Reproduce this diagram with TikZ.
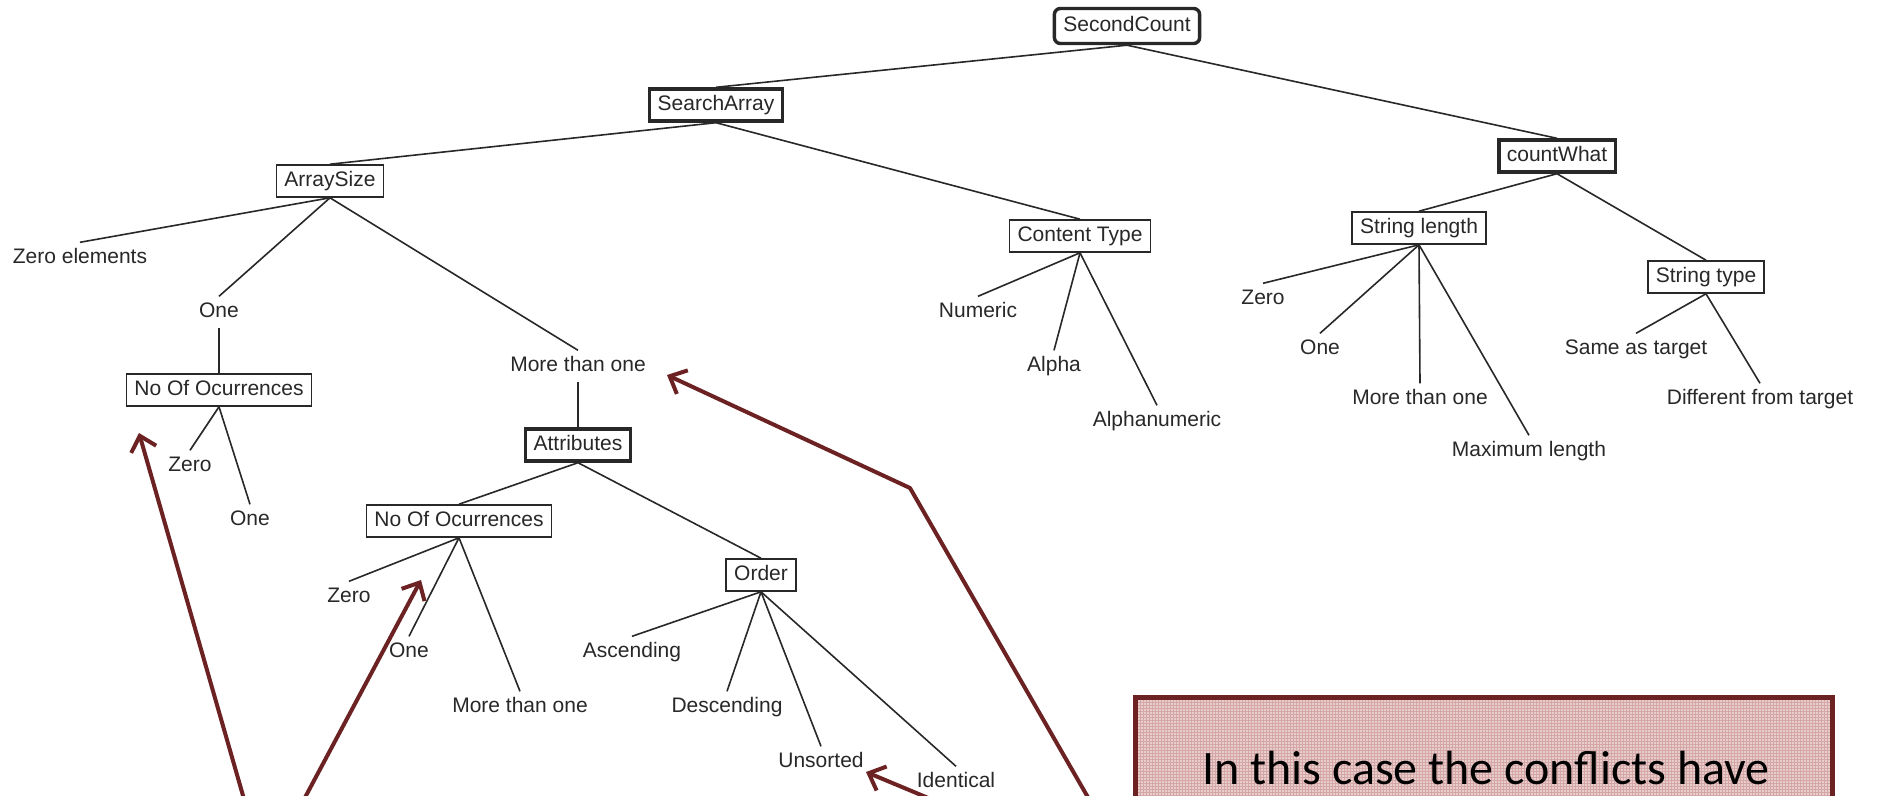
\documentclass[tikz,border=0pt]{standalone}
\usepackage{fontspec}
\setmainfont{Liberation Sans}
\newfontfamily\calloutfont{Carlito}
\usetikzlibrary{arrows.meta,patterns}
\definecolor{treeink}{RGB}{40,40,40}
\definecolor{notered}{RGB}{108,34,34}
\definecolor{notefill}{RGB}{232,205,205}
\definecolor{notegrid}{RGB}{212,166,166}

\begin{document}
\begin{tikzpicture}[x=1pt,y=-1pt,
  every node/.style={font=\fontsize{21}{25}\selectfont, text=treeink,
    text height=15pt, text depth=4pt},
  leaf/.style={inner xsep=2pt, inner ysep=6pt},
  cat/.style={draw=treeink, line width=1.6pt, inner xsep=8pt, inner ysep=6.5pt},
  keycat/.style={cat, line width=3.4pt},
  rootcat/.style={keycat, rounded corners=6pt, inner xsep=9pt, inner ysep=8pt},
  edge/.style={draw=treeink, line width=1.6pt},
  remark/.style={draw=notered, line width=4pt, line join=round,
    -{Straight Barb[length=14pt,width=26pt]}},
]
\clip (0,0) rectangle (1879,795);
\fill[white] (0,0) rectangle (1879,795);

% category boxes
\node[rootcat] (sc) at (1127,26) {SecondCount};
\node[keycat]  (sa) at (716,105) {SearchArray};
\node[cat]     (as) at (330,181) {ArraySize};
\node[cat]     (ct) at (1080,236) {Content Type};
\node[keycat]  (cw) at (1557,156) {countWhat};
\node[cat]     (sl) at (1419,228) {String length};
\node[cat]     (st) at (1706,277) {String type};
\node[cat]     (noa) at (219,390) {No Of Ocurrences};
\node[keycat]  (at) at (578,445) {Attributes};
\node[cat]     (nob) at (459,521) {No Of Ocurrences};
\node[cat]     (or) at (761,575) {Order};

% leaf values
\node[leaf] (zel)  at (80,258)   {Zero elements};
\node[leaf] (onea) at (219,312)  {One};
\node[leaf] (mta)  at (578,366)  {More than one};
\node[leaf] (zra)  at (190,466)  {Zero};
\node[leaf] (onb)  at (250,520)  {One};
\node[leaf] (zrb)  at (349,597)  {Zero};
\node[leaf] (onc)  at (409,652)  {One};
\node[leaf] (mtb)  at (520,707)  {More than one};
\node[leaf] (asc)  at (632,652)  {Ascending};
\node[leaf] (desc) at (727,707)  {Descending};
\node[leaf] (uns)  at (821,762)  {Unsorted};
\node[leaf] (idn)  at (956,782)  {Identical};
\node[leaf] (num)  at (978,312)  {Numeric};
\node[leaf] (alp)  at (1054,366) {Alpha};
\node[leaf] (aln)  at (1157,421) {Alphanumeric};
\node[leaf] (zrc)  at (1263,299) {Zero};
\node[leaf] (ond)  at (1320,349) {One};
\node[leaf] (mtc)  at (1420,399) {More than one};
\node[leaf] (mxl)  at (1529,451) {Maximum length};
\node[leaf] (sat)  at (1636,349) {Same as target};
\node[leaf] (dft)  at (1760,399) {Different from target};

% tree edges
\draw[edge] (sc.south) -- (sa.north);
\draw[edge] (sc.south) -- (cw.north);
\draw[edge] (sa.south) -- (as.north);
\draw[edge] (sa.south) -- (ct.north);
\draw[edge] (as.south) -- (zel.north);
\draw[edge] (as.south) -- (onea.north);
\draw[edge] (as.south) -- (mta.north);
\draw[edge] (onea.south) -- (noa.north);
\draw[edge] (noa.south) -- (zra.north);
\draw[edge] (noa.south) -- (onb.north);
\draw[edge] (mta.south) -- (at.north);
\draw[edge] (at.south) -- (nob.north);
\draw[edge] (at.south) -- (or.north);
\draw[edge] (nob.south) -- (zrb.north);
\draw[edge] (nob.south) -- (onc.north);
\draw[edge] (nob.south) -- (mtb.north);
\draw[edge] (or.south) -- (asc.north);
\draw[edge] (or.south) -- (desc.north);
\draw[edge] (or.south) -- (uns.north);
\draw[edge] (or.south) -- (idn.north);
\draw[edge] (ct.south) -- (num.north);
\draw[edge] (ct.south) -- (alp.north);
\draw[edge] (ct.south) -- (aln.north);
\draw[edge] (cw.south) -- (sl.north);
\draw[edge] (cw.south) -- (st.north);
\draw[edge] (sl.south) -- (zrc.north);
\draw[edge] (sl.south) -- (ond.north);
\draw[edge] (sl.south) -- (mtc.north);
\draw[edge] (sl.south) -- (mxl.north);
\draw[edge] (st.south) -- (sat.north);
\draw[edge] (st.south) -- (dft.north);

% note box, running on below the lower edge
\fill[notefill] (1135,697) rectangle (1832,900);
\fill[pattern=grid, pattern color=notegrid] (1135,697) rectangle (1832,900);
\draw[notered, line width=5pt] (1135,697) rectangle (1832,900);
\node[font=\calloutfont\fontsize{48}{56}\selectfont, text=black,
  text height=33pt, text depth=0pt, inner sep=0pt] (note) at (1486,768)
  {In this case the conflicts have};

% pointers from the note
\coordinate (r1from) at (250,820);  \coordinate (r1to) at (139,433);
\coordinate (r2from) at (293,820);  \coordinate (r2to) at (421,580);
\coordinate (r3from) at (1101,820); \coordinate (r3bend) at (910,488);
\coordinate (r3to) at (667,375);
\coordinate (r4from) at (981,820);  \coordinate (r4to) at (866,772);
\draw[remark] (r1from) -- (r1to);
\draw[remark] (r2from) -- (r2to);
\draw[remark] (r3from) -- (r3bend) -- (r3to);
\draw[remark] (r4from) -- (r4to);
\end{tikzpicture}
\end{document}
